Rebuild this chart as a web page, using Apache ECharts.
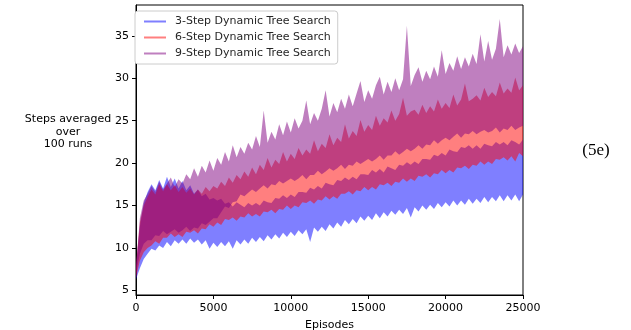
<!DOCTYPE html>
<html>
<head>
<meta charset="utf-8">
<script src="https://cdn.jsdelivr.net/npm/echarts@6/dist/echarts.min.js"></script>
<style>html,body{margin:0;padding:0;background:#fff;}#chart{width:631px;height:330px;}</style>
</head>
<body>
<div id="chart"></div>
<script>
const episodeStep = 250;
const seriesNames = ['3-Step Dynamic Tree Search', '6-Step Dynamic Tree Search', '9-Step Dynamic Tree Search'];
const xTicks = [0, 5000, 10000, 15000, 20000, 25000];
const yTicks = [5, 10, 15, 20, 25, 30, 35];

// 3-step (blue)
const blueLower = [6.3,7.6,8.7,9.3,9.9,9.7,10.3,10,10.7,10.2,10.9,10.5,11,10.5,11.1,10.6,11,10.4,10.9,9.9,10.6,10.1,10.7,10.2,10.8,9.9,10.9,10.4,11,10.5,11.2,10.7,11.3,10.8,11.5,11,11.6,11.1,11.8,11.3,11.9,11.4,12.1,11.6,12.2,10.7,12.4,11.9,12.5,12,12.8,12.3,13,12.5,13.3,12.8,13.4,12.9,13.7,13.2,13.8,13.3,14.1,13.5,14.2,13.7,14.4,13.9,14.5,14,14.7,13.6,14.8,14.3,15,14.5,15.1,14.6,15.3,14.8,15.4,14.9,15.6,15,15.6,15.1,15.8,15.2,15.8,15.3,16,15.4,16,15.5,16.2,15.5,16.2,15.6,16.3,15.5,16.3];
const blueUpper = [8,12.5,15.3,16.6,17.5,16.8,18,17,18.4,17.2,18.2,17,17.9,16.8,17.4,16.4,16.9,16.1,16.4,15.7,15.9,15.6,15.8,15.2,15.4,14.9,15.4,15.1,14.8,15.3,15,15.3,15,15.6,15.4,15.3,15.9,15.8,16.2,15.9,16.3,16,16.6,16.6,16.5,17.1,16.9,17.3,17,17.7,17.5,17.4,18,17.9,18.3,18,18.4,18.1,18.7,18.7,18.6,19.2,18.9,19.3,18.9,19.6,19.4,19.2,19.8,19.7,20.1,19.8,20.2,19.9,20.5,20.5,20.4,21,20.8,21.2,20.9,21.6,21.4,21.3,21.9,21.8,22.1,21.7,22.1,21.7,22.3,22.1,22,22.5,22.2,22.5,22.1,22.7,22.5,22.2,22.8];

// 6-step (red)
const redLower = [6.5,8.5,9.5,10,10.3,10.8,10.5,11.2,11.2,11.7,11.3,11.6,11.3,11.9,11.8,12.1,11.7,12.3,12.2,12.8,12.5,13,12.7,13.4,13.3,13.6,13.2,13.7,13.6,14.1,13.7,14,13.7,14.3,14.2,14.5,14.1,14.6,14.5,15,14.6,15,14.8,15.4,15.3,15.6,15.2,15.7,15.6,16.1,15.7,16.1,15.8,16.4,16.4,16.7,16.3,16.8,16.7,17.2,16.8,17.2,16.9,17.5,17.4,17.7,17.3,17.8,17.7,18.2,17.8,18.2,17.9,18.5,18.4,18.7,18.3,18.8,18.7,19.2,18.8,19.2,18.9,19.5,19.4,19.7,19.3,19.8,19.7,20.2,19.8,20.2,19.9,20.5,20.4,20.7,20.3,20.8,20.2,21.2,20.8];
const redUpper = [8,13,15,16,16.9,16.3,17.5,16.7,17.5,16.8,17.4,16.6,17.2,16.5,17,16.3,16.9,16.4,17.2,16.7,17.3,17,17.8,17.3,18.3,17.7,18.6,18.1,19,18.4,19.5,18.7,19.8,19.2,20.6,19.5,20.4,19.9,21.3,20.2,21.1,20.5,21.8,20.9,21.6,21.1,22.7,21.4,22.3,21.8,23.4,22.1,23,22.5,24.6,22.9,23.8,23.2,25.1,23.7,24.5,23.9,25.6,24.4,25.3,24.8,26.2,25,25.8,27.7,25.6,26.1,26.3,25.7,26.9,25.9,26.7,26.1,27.5,26.4,27.1,26.5,28.1,26.8,27.5,29.4,27.3,27.6,28,27.4,28.9,27.8,28.4,27.9,29.5,28.2,28.8,28.3,30.1,28.6,29.2];

// 9-step (purple)
const purpleLower = [7,9.3,10.5,10.9,10.9,11.5,11.4,12,11.6,11.9,12.2,11.8,12.1,12.5,12,12.4,12.3,12.9,12.7,13.1,13.5,13.5,14.2,14.9,14.7,15.4,15.5,16.3,16.1,16.5,16.9,16.6,17,17.4,17,17.5,17.4,17.9,17.6,17.9,18.2,17.9,18.2,18.6,18.1,18.6,18.6,19.1,18.7,19,19.4,19.1,19.4,19.8,19.3,19.8,19.7,20.2,19.9,20.2,20.5,20.2,20.5,20.9,20.4,20.9,20.9,21.4,21,21.3,21.7,21.4,21.7,22.1,21.7,22.2,22.1,22.7,22.3,22.7,23,22.7,23.1,23.5,23,23.5,23.4,23.8,23.4,23.7,23.9,23.6,23.8,24.2,23.6,24.1,23.9,24.4,23.9,24.2,24.4];
const purpleUpper = [7.5,13.5,15.6,16.4,17.3,16.6,17.8,16.9,17.6,18.3,17.2,18.1,17.6,18.7,18.1,19.4,18.4,19.7,18.9,20.3,19.1,20.6,19.8,21.3,20.2,22.1,20.7,21.9,21.1,22.4,21.6,23.2,21.9,26.2,22.4,23.7,22.8,24.6,23.3,24.9,23.6,25.3,24.1,25,27.4,24.6,25.9,25,26.4,28.6,25.5,27.1,26,27.6,26.4,28.1,26.7,28.2,29.7,27.2,28.6,27.6,29.2,30.2,28.1,29.6,28.4,30,28.6,29.9,36.2,29.1,30.4,31.3,29.6,30.9,29.9,31.4,30.2,33.3,30.5,31.8,30.9,32.6,31.1,32.5,31.4,32.9,31.7,35.2,32,34.4,32.2,33.5,37,32.5,33.9,32.8,34.1,33,33.8];

const bands = [
  {name: seriesNames[0], lower: blueLower, upper: blueUpper, color: 'rgba(0,0,255,0.5)'},
  {name: seriesNames[1], lower: redLower, upper: redUpper, color: 'rgba(255,0,0,0.5)'},
  {name: seriesNames[2], lower: purpleLower, upper: purpleUpper, color: 'rgba(128,0,128,0.5)'}
];

const series = bands.map((b) => ({
  type: 'custom', name: b.name,
  data: [[0, b.lower[0]]],
  encode: {x: 0, y: 1},
  itemStyle: {color: b.color},
  clip: true,
  renderItem: function (params, api) {
    const pts = [];
    for (let i = 0; i < b.upper.length; i++) pts.push(api.coord([i * episodeStep, b.upper[i]]));
    for (let i = b.lower.length - 1; i >= 0; i--) pts.push(api.coord([i * episodeStep, b.lower[i]]));
    return {type: 'polygon', shape: {points: pts}, style: {fill: b.color, stroke: null}};
  }
}));

const font = 'DejaVu Sans';
const chart = echarts.init(document.getElementById('chart'), null, {renderer: 'canvas'});
chart.setOption({
  animation: false,
  backgroundColor: '#ffffff',
  grid: {left: 136, right: 108, top: 5, bottom: 35, show: true, borderColor: '#000', borderWidth: 1, backgroundColor: 'transparent', containLabel: false, outerBoundsMode: 'none'},
  xAxis: {
    type: 'value', min: 0, max: 25000, interval: 5000,
    name: 'Episodes', nameLocation: 'middle', nameGap: 25,
    nameTextStyle: {fontFamily: font, fontSize: 11, color: '#000'},
    axisLine: {show: true, onZero: false, lineStyle: {color: '#000', width: 1}},
    axisTick: {show: true, inside: false, length: 4, lineStyle: {color: '#000'}},
    axisLabel: {fontFamily: font, fontSize: 11, color: '#000', margin: 8, showMinLabel: true, showMaxLabel: true, formatter: (v) => String(v)},
    splitLine: {show: false}
  },
  yAxis: {
    type: 'value', min: 4.45, max: 38.65,
    axisLine: {show: true, onZero: false, lineStyle: {color: '#000', width: 1}},
    axisTick: {show: true, inside: false, length: 4, lineStyle: {color: '#000'}, customValues: yTicks},
    axisLabel: {fontFamily: font, fontSize: 11, color: '#000', margin: 7, customValues: yTicks, formatter: (v) => String(v)},
    splitLine: {show: false}
  },
  legend: {
    data: seriesNames,
    orient: 'vertical', left: 135, top: 11,
    backgroundColor: '#fff', borderColor: '#cccccc', borderWidth: 1, borderRadius: 3,
    padding: [4, 7, 4, 9],
    itemGap: 3, itemWidth: 22, itemHeight: 2, icon: 'rect',
    textStyle: {fontFamily: font, fontSize: 11, color: '#262626', lineHeight: 13, padding: [0, 0, 0, 4]},
    selectedMode: false
  },
  graphic: [
    {type: 'text', x: 68, y: 113, style: {text: 'Steps averaged\nover\n100 runs', fontFamily: font, fontSize: 11, lineHeight: 12.5, fill: '#000', textAlign: 'center'}},
    {type: 'text', x: 596, y: 142, style: {text: '(5e)', fontFamily: 'Liberation Serif', fontSize: 17, fill: '#000', textAlign: 'center'}}
  ],
  series: series
});
</script>
</body>
</html>
